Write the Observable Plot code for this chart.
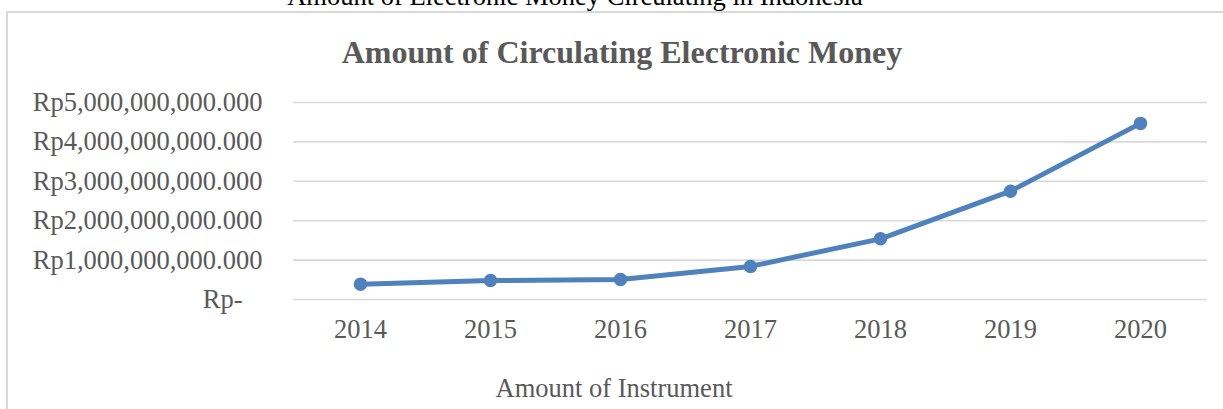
<!DOCTYPE html>
<html>
<head>
<meta charset="utf-8">
<script src="https://cdn.jsdelivr.net/npm/d3@7"></script>
<script src="https://cdn.jsdelivr.net/npm/@observablehq/plot@0.6"></script>
<style>
  html, body { margin: 0; padding: 0; background: #fff; overflow: hidden; }
  svg { display: block; }
</style>
</head>
<body>
<div id="chart"></div>
<script>
const pageTitle = "Amount of Electronic Money Circulating in Indonesia";
const chartTitle = "Amount of Circulating Electronic Money";
const xAxisTitle = "Amount of Instrument";
const years = ["2014", "2015", "2016", "2017", "2018", "2019", "2020"];
const amounts = [0.39e9, 0.48e9, 0.51e9, 0.84e9, 1.54e9, 2.75e9, 4.47e9];
const yTicks = [0, 1e9, 2e9, 3e9, 4e9, 5e9];
const yTickLabels = ["Rp-", "Rp1,000,000,000.000", "Rp2,000,000,000.000", "Rp3,000,000,000.000", "Rp4,000,000,000.000", "Rp5,000,000,000.000"];

const data = years.map((y, i) => ({year: y, value: amounts[i]}));
const ticks = yTicks.map((v, i) => ({value: v, label: yTickLabels[i]}));

const FONT = "'Liberation Serif', 'Times New Roman', serif";
const TEXT = "#595959";
const BLUE = "#4f81bd";

const plot = Plot.plot({
  width: 1223,
  height: 409,
  marginLeft: 293,
  marginRight: 16,
  marginTop: 102,
  marginBottom: 110,
  style: {fontFamily: FONT, background: "transparent"},
  x: {type: "point", domain: years, padding: 0.5, axis: null},
  y: {domain: [0, 5e9], axis: null},
  marks: [
    Plot.ruleY(ticks, {y: "value", stroke: "#d9d9d9", strokeWidth: 1.6}),
    Plot.text(ticks.filter(d => d.value !== 0), {y: "value", text: "label", frameAnchor: "left", textAnchor: "end", dx: -31, fontSize: 26.5, fill: TEXT, lineAnchor: "middle"}),
    Plot.text(ticks.filter(d => d.value === 0), {y: "value", text: "label", frameAnchor: "left", textAnchor: "end", dx: -51, fontSize: 26.5, fill: TEXT, lineAnchor: "middle"}),
    Plot.text(years, {x: d => d, text: d => d, frameAnchor: "bottom", dy: 30, fontSize: 26.5, fill: TEXT, lineAnchor: "middle"}),
    Plot.line(data, {x: "year", y: "value", stroke: BLUE, strokeWidth: 5, strokeLinejoin: "round", strokeLinecap: "round"}),
    Plot.dot(data, {x: "year", y: "value", r: 6, fill: BLUE, stroke: BLUE})
  ]
});

const svg = d3.select(plot);
svg.insert("rect", ":first-child")
  .attr("x", 7).attr("y", 12).attr("width", 1400).attr("height", 600)
  .attr("fill", "#fff").attr("stroke", "#d9d9d9").attr("stroke-width", 2);
svg.append("text")
  .attr("x", 575).attr("y", 5).attr("text-anchor", "middle")
  .attr("font-family", FONT).attr("font-size", 26.5).attr("fill", "#000")
  .text(pageTitle);
svg.append("text")
  .attr("x", 622).attr("y", 63).attr("text-anchor", "middle")
  .attr("font-family", FONT).attr("font-size", 32).attr("font-weight", "bold").attr("fill", TEXT)
  .text(chartTitle);
svg.append("text")
  .attr("x", 614).attr("y", 397).attr("text-anchor", "middle")
  .attr("font-family", FONT).attr("font-size", 26.5).attr("fill", TEXT)
  .text(xAxisTitle);

document.getElementById("chart").appendChild(plot);
</script>
</body>
</html>
